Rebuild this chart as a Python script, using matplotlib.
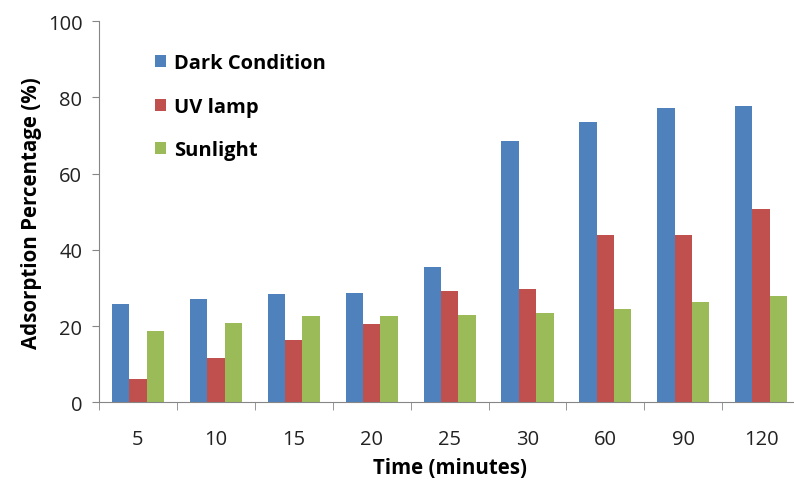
import numpy as np
import matplotlib.pyplot as plt

plt.rcParams['font.family'] = ['Open Sans', 'DejaVu Sans']

times = ['5', '10', '15', '20', '25', '30', '60', '90', '120']
dark = [25.7, 27.2, 28.4, 28.7, 35.4, 68.6, 73.5, 77.2, 77.8]
uv_lamp = [6.2, 11.7, 16.3, 20.5, 29.3, 29.6, 44.0, 44.0, 50.6]
sunlight = [18.7, 20.8, 22.6, 22.6, 22.9, 23.5, 24.4, 26.2, 27.8]

series = [('Dark Condition', dark, '#4F81BD'),
          ('UV lamp', uv_lamp, '#C0504D'),
          ('Sunlight', sunlight, '#9BBB59')]

fig = plt.figure(figsize=(7.94, 4.81), dpi=100)
ax = fig.add_axes([0.1247, 0.1615, 0.883, 0.7925])

x = np.arange(len(times))
w = 0.223
for i, (name, vals, col) in enumerate(series):
    ax.bar(x + (i - 1) * w, vals, w, color=col, label=name)

ax.set_xlim(-0.5, len(times) - 0.5)
ax.set_ylim(0, 100)
ax.set_yticks(range(0, 101, 20))
ax.set_xticks(x)
ax.set_xticklabels(times)
# tick marks sit between the groups, labels under the group centres
ax.set_xticks(np.arange(len(times)) - 0.5, minor=True)
ax.tick_params(axis='x', which='major', length=0, pad=19, labelsize=14.5, labelcolor='#222222')
ax.tick_params(axis='x', which='minor', length=6, color='#868686')
ax.tick_params(axis='y', length=5, color='#868686', pad=7, labelsize=14.5, labelcolor='#222222')

for s in ['top', 'right']:
    ax.spines[s].set_visible(False)
for s in ['left', 'bottom']:
    ax.spines[s].set_color('#868686')

ax.set_xlabel('Time (minutes)', fontsize=14.8, fontweight='bold', labelpad=6)
ax.set_ylabel('Adsorption Percentage (%)', fontsize=14.8, fontweight='bold', labelpad=4)

ax.legend(loc='upper left', bbox_to_anchor=(0.054, 0.963), frameon=False,
          prop={'weight': 'bold', 'size': 14.5},
          handlelength=0.55, handleheight=0.55, handletextpad=0.4, labelspacing=1.17)

fig.savefig('out.png', dpi=100)
